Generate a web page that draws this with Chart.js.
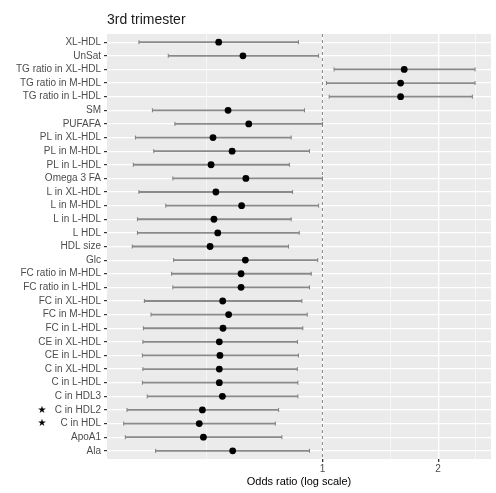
<!DOCTYPE html>
<html>
    <head>
        <meta charset="utf-8">
        <title>3rd trimester</title>
        <script src="https://cdn.jsdelivr.net/npm/chart.js"></script>
        <style>
            body {
                margin: 0;
                background: #ffffff;
            }
            #box {
                width: 496px;
                height: 493px;
            }
        </style>
    </head>
    <body>
        <div id="box"><canvas id="orChart"></canvas></div>
        <script>
            // rows from top to bottom
            const categories = ["XL-HDL", "UnSat", "TG ratio in XL-HDL", "TG ratio in M-HDL", "TG ratio in L-HDL",
                "SM", "PUFAFA", "PL in XL-HDL", "PL in M-HDL", "PL in L-HDL", "Omega 3 FA", "L in XL-HDL",
                "L in M-HDL", "L in L-HDL", "L HDL", "HDL size", "Glc", "FC ratio in M-HDL", "FC ratio in L-HDL",
                "FC in XL-HDL", "FC in M-HDL", "FC in L-HDL", "CE in XL-HDL", "CE in L-HDL", "C in XL-HDL",
                "C in L-HDL", "C in HDL3", "C in HDL2", "C in HDL", "ApoA1", "Ala"];
            const oddsRatio = [0.537, 0.621, 1.632, 1.597, 1.597, 0.568, 0.643, 0.519, 0.582, 0.513, 0.632, 0.528,
                0.616, 0.522, 0.534, 0.510, 0.630, 0.614, 0.614, 0.550, 0.570, 0.551, 0.539, 0.541, 0.539,
                0.539, 0.549, 0.487, 0.478, 0.490, 0.584];
            const ciLow = [0.333, 0.397, 1.072, 1.024, 1.041, 0.361, 0.413, 0.326, 0.364, 0.322, 0.408, 0.333,
                0.391, 0.330, 0.330, 0.320, 0.410, 0.405, 0.408, 0.344, 0.358, 0.342, 0.341, 0.340, 0.341,
                0.340, 0.350, 0.310, 0.304, 0.307, 0.368];
            const ciHigh = [0.866, 0.977, 2.495, 2.495, 2.455, 0.898, 1.000, 0.829, 0.925, 0.820, 1.000, 0.836,
                0.977, 0.829, 0.870, 0.816, 0.972, 0.935, 0.925, 0.884, 0.913, 0.889, 0.861, 0.866, 0.860,
                0.863, 0.863, 0.769, 0.754, 0.784, 0.925];
            const starred = ["C in HDL2", "C in HDL"];
            const xBreaks = [0.5, 1, 1.5, 2, 2.5];
            const xLabels = [1, 2];

            const whiskers = [];
            const caps = [];
            categories.forEach((c, i) => {
                whiskers.push({x: ciLow[i], y: i}, {x: ciHigh[i], y: i}, {x: null, y: i});
                caps.push({x: ciLow[i], y: i}, {x: ciHigh[i], y: i});
            });
            const points = categories.map((c, i) => ({x: oddsRatio[i], y: i}));

            const panelBg = {
                id: "panelBg",
                beforeDraw(chart) {
                    const a = chart.chartArea;
                    const ctx = chart.ctx;
                    ctx.save();
                    ctx.fillStyle = "#ebebeb";
                    ctx.fillRect(a.left, a.top, a.right - a.left, a.bottom - a.top);
                    ctx.restore();
                },
                afterDraw(chart) {
                    const ctx = chart.ctx;
                    const y = chart.scales.y;
                    ctx.save();
                    ctx.fillStyle = "#1a1a1a";
                    ctx.font = "14px 'Liberation Sans', Arial, sans-serif";
                    ctx.textBaseline = "middle";
                    ctx.fillText("3rd trimester", chart.chartArea.left, 20);
                    ctx.font = "10px 'DejaVu Sans', sans-serif";
                    ctx.fillStyle = "#000000";
                    ctx.textAlign = "center";
                    starred.forEach(s => {
                        ctx.fillText("★", 42, y.getPixelForValue(categories.indexOf(s)));
                    });
                    ctx.restore();
                }
            };

            new Chart(document.getElementById("orChart"), {
                type: "scatter",
                data: {
                    datasets: [
                        {
                            data: points,
                            pointRadius: 3.4,
                            pointBackgroundColor: "#000000",
                            pointBorderColor: "#000000",
                            pointBorderWidth: 0
                        },
                        {
                            data: caps,
                            pointStyle: "line",
                            rotation: 90,
                            pointRadius: 2,
                            pointBorderColor: "#7f7f7f",
                            pointBorderWidth: 1
                        },
                        {
                            type: "line",
                            data: whiskers,
                            borderColor: "#8a8a8a",
                            borderWidth: 1.8,
                            pointRadius: 0,
                            spanGaps: false
                        },
                        {
                            type: "line",
                            data: [{x: 1, y: -0.6}, {x: 1, y: categories.length - 0.4}],
                            borderColor: "#8a8a8a",
                            borderWidth: 1,
                            borderDash: [3, 3],
                            pointRadius: 0
                        }
                    ]
                },
                options: {
                    responsive: true,
                    maintainAspectRatio: false,
                    animation: false,
                    layout: {
                        padding: {left: 0, right: 2, top: 34, bottom: 0}
                    },
                    plugins: {
                        legend: {display: false},
                        tooltip: {enabled: false}
                    },
                    scales: {
                        x: {
                            type: "logarithmic",
                            min: 0.275,
                            max: 2.745,
                            border: {display: false},
                            afterBuildTicks: s => {
                                s.ticks = xBreaks.map(v => ({value: v}));
                            },
                            afterFit: s => {
                                s.height = 34;
                            },
                            grid: {
                                color: "#ffffff",
                                lineWidth: c => xLabels.includes(c.tick.value) ? 1.3 : 0.6,
                                tickColor: c => xLabels.includes(c.tick.value) ? "#333333" : "rgba(0,0,0,0)",
                                tickLength: 3
                            },
                            ticks: {
                                color: "#4d4d4d",
                                font: {size: 10, family: "'Liberation Sans', Arial, sans-serif"},
                                padding: 1,
                                maxRotation: 0,
                                autoSkip: false,
                                callback: v => xLabels.includes(v) ? String(v) : ""
                            },
                            title: {
                                display: true,
                                text: "Odds ratio (log scale)",
                                color: "#000000",
                                font: {size: 11, family: "'Liberation Sans', Arial, sans-serif"},
                                padding: {top: 2, bottom: 4}
                            }
                        },
                        y: {
                            type: "linear",
                            reverse: true,
                            min: -0.6,
                            max: categories.length - 0.4,
                            border: {display: false},
                            afterBuildTicks: s => {
                                s.ticks = categories.map((c, i) => ({value: i}));
                            },
                            afterFit: s => {
                                s.width = 107;
                            },
                            grid: {
                                color: "#ffffff",
                                lineWidth: 1.2,
                                tickColor: "#333333",
                                tickLength: 3
                            },
                            ticks: {
                                color: "#4d4d4d",
                                font: {size: 10, family: "'Liberation Sans', Arial, sans-serif"},
                                padding: 3,
                                autoSkip: false,
                                callback: v => categories[v]
                            }
                        }
                    }
                },
                plugins: [panelBg]
            });
        </script>
    </body>
</html>
